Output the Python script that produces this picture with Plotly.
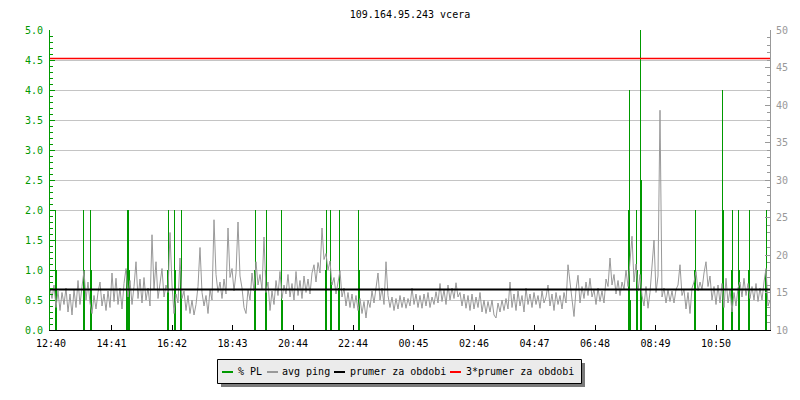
import plotly.graph_objects as go

# ---------------- data ----------------
title_text = "109.164.95.243 vcera"
tick_labels = ["12:40", "14:41", "16:42", "18:43", "20:44", "22:44",
               "00:45", "02:46", "04:47", "06:48", "08:49", "10:50"]
start_hhmm = "12:38"          # time at the left edge of the chart
span_minutes = 1440           # one day
ping_step_min = 4             # sampling step of the avg ping series

# avg ping [ms], one value every 4 minutes from the left edge
avg_ping = [
    15.6, 14.2, 16.0, 13.0, 15.2, 12.6, 15.0, 13.4, 15.6, 12.4,
    14.8, 12.0, 15.4, 13.0, 16.6, 13.4, 15.8, 17.9, 14.0, 16.4,
    13.6, 12.2, 14.6, 12.8, 15.0, 16.4, 13.2, 14.8, 12.6, 15.2,
    13.0, 17.6, 13.8, 16.9, 13.4, 15.6, 12.8, 16.2, 18.2, 14.4,
    16.6, 13.4, 15.8, 19.1, 14.2, 16.8, 13.6, 17.0, 14.0, 15.6,
    13.2, 22.7, 15.4, 19.1, 14.2, 16.6, 18.2, 14.4, 16.0, 15.0,
    23.0, 16.0, 12.2, 14.8, 13.6, 19.6, 14.2, 15.2, 12.6, 14.6,
    12.2, 14.0, 12.0, 13.4, 15.8, 21.0, 15.0, 13.2, 14.6, 12.2,
    15.4, 14.0, 24.7, 17.4, 15.0, 16.4, 14.2, 16.8, 14.8, 23.6,
    17.0, 18.2, 15.2, 17.6, 24.4, 17.2, 15.6, 13.0, 12.2, 15.4,
    14.0, 17.6, 15.2, 19.1, 16.0, 17.4, 15.4, 22.4, 15.0, 16.4,
    12.6, 15.2, 13.4, 16.6, 14.6, 17.8, 14.2, 16.0, 14.8, 17.4,
    14.4, 16.2, 14.0, 17.8, 14.6, 16.6, 14.2, 17.2, 15.0, 16.8,
    14.8, 17.6, 18.7, 16.4, 19.0, 17.6, 23.6, 19.4, 20.2, 18.0,
    19.2, 16.0, 17.0, 14.8, 16.6, 17.9, 14.4, 15.6, 13.2, 15.0,
    13.0, 14.8, 12.9, 14.6, 12.6, 14.2, 12.2, 13.8, 11.6, 14.0,
    13.0, 15.2, 13.6, 16.0, 17.6, 14.0, 15.6, 13.4, 19.1, 14.6,
    13.0, 14.4, 12.6, 14.2, 12.8, 14.6, 13.0, 14.4, 12.9, 14.2,
    13.2, 15.6, 13.4, 14.8, 13.0, 14.6, 12.9, 14.8, 13.2, 15.0,
    13.0, 14.4, 13.4, 15.1, 13.6, 16.2, 13.8, 15.4, 13.4, 16.0,
    14.0, 15.6, 14.2, 16.3, 14.4, 15.0, 13.2, 14.8, 12.9, 14.6,
    12.6, 14.8, 12.8, 14.4, 13.0, 15.0, 12.4, 14.0, 12.2, 13.8,
    12.4, 14.0, 12.0, 11.6, 13.6, 12.4, 14.0, 12.6, 14.2, 12.8,
    16.4, 13.0, 14.8, 12.6, 15.2, 13.2, 14.6, 12.4, 15.6, 13.4,
    14.8, 13.0, 15.0, 13.4, 14.6, 12.9, 15.2, 13.6, 14.4, 16.0,
    13.2, 14.8, 12.6, 15.0, 13.4, 14.6, 12.8, 15.0, 13.6, 18.7,
    16.2, 13.6, 11.8, 15.4, 17.3, 13.6, 15.8, 14.2, 16.4, 14.6,
    16.9, 14.4, 15.4, 13.4, 15.6, 13.8, 15.2, 13.6, 16.8, 15.8,
    19.6, 16.0, 17.4, 14.8, 16.6, 14.6, 16.4, 15.4, 18.0, 15.8,
    18.7, 22.5, 16.4, 18.8, 15.2, 17.4, 14.6, 13.2, 15.8, 12.9,
    15.0, 19.1, 22.0, 15.0, 17.2, 39.3, 14.4, 15.6, 13.6, 15.4,
    13.8, 15.2, 13.6, 15.4, 16.0, 18.7, 14.6, 15.4, 12.8, 15.0,
    12.2, 15.6, 16.4, 17.8, 15.2, 16.4, 15.4, 17.6, 19.1, 15.8,
    17.2, 14.0, 15.8, 13.4, 16.0, 13.6, 16.2, 13.0, 16.9, 13.6,
    15.4, 12.4, 15.0, 13.2, 15.6, 16.4, 14.4, 16.9, 14.6, 16.2,
    14.2, 15.8, 14.0, 16.2, 13.8, 15.6, 14.0, 16.4, 18.2, 13.2,
    14.0,
]

# packet loss [%]: minutes from the left edge and value
pl_times = [11, 13, 67, 69, 81, 83, 153, 155, 157, 159,
            235, 237, 249, 251, 261, 263, 409, 411, 431, 433,
            463, 465, 551, 553, 561, 563, 577, 579, 617, 619,
            1157, 1159, 1161, 1173, 1175, 1181, 1183, 1289, 1291, 1345,
            1347, 1363, 1365, 1377, 1379, 1397, 1399, 1431, 1433]
pl_values = [2, 1, 2, 1, 2, 1, 1, 2, 2, 1,
             1, 2, 2, 1, 1, 2, 1, 2, 1, 2,
             2, 0.5, 1, 2, 2, 0.8, 0.7, 2, 2, 1,
             2, 4, 0.5, 2, 1, 5, 2.5, 1, 2, 4,
             2, 1, 2, 2, 1, 1, 2, 1, 2]

prumer = 15.4      # average ping for the period [ms]

legend_names = ["% PL", "avg ping", "prumer za obdobi", "3*prumer za obdobi"]

# ---------------- styles ----------------
GREEN = "#009900"
GRAY = "#999999"
GRID = "#c4c4c4"
FONT = "DejaVu Sans Mono"

W, H = 800, 400
L, R, T, B = 50, 30, 30, 70
PW, PH = W - L - R, H - T - B


def hhmm_to_min(s):
    h, m = s.split(":")
    return int(h) * 60 + int(m)


start = hhmm_to_min(start_hhmm)
tick_vals = [(hhmm_to_min(s) - start) % 1440 for s in tick_labels]
ping_x = [i * ping_step_min for i in range(len(avg_ping))]

fig = go.Figure()

fig.add_trace(go.Bar(x=pl_times, y=pl_values, width=2, yaxis="y",
                     marker=dict(color=GREEN, line=dict(width=0, color=GREEN)),
                     name=legend_names[0]))
fig.add_trace(go.Scatter(x=ping_x, y=avg_ping, yaxis="y2", mode="lines",
                         line=dict(color=GRAY, width=1), name=legend_names[1]))
fig.add_trace(go.Scatter(x=[0, span_minutes], y=[prumer, prumer], yaxis="y2",
                         mode="lines", line=dict(color="black", width=2.2),
                         name=legend_names[2]))
fig.add_trace(go.Scatter(x=[0, span_minutes], y=[3 * prumer, 3 * prumer],
                         yaxis="y2", mode="lines",
                         line=dict(color="#ff0000", width=1.6),
                         name=legend_names[3]))


def px_x(p):
    return (p - L) / PW


def px_y(p):
    return (H - B - p) / PH


shapes = []
annotations = []
# legend box with drop shadow
shapes.append(dict(type="rect", xref="paper", yref="paper",
                   x0=px_x(221), x1=px_x(585), y0=px_y(387), y1=px_y(363),
                   fillcolor="#7a7a7a", line=dict(width=0), layer="above"))
shapes.append(dict(type="rect", xref="paper", yref="paper",
                   x0=px_x(217.5), x1=px_x(581.5), y0=px_y(383.5), y1=px_y(359.5),
                   fillcolor="#ebebeb", line=dict(color="black", width=1),
                   layer="above"))
legend_colors = [GREEN, GRAY, "black", "#ff0000"]
legend_line_x = [222, 267, 334, 450]
legend_text_x = [236, 280, 348, 464]
for name, col, lx, tx in zip(legend_names, legend_colors, legend_line_x, legend_text_x):
    shapes.append(dict(type="line", xref="paper", yref="paper",
                       x0=px_x(lx), x1=px_x(lx + 11), y0=px_y(372), y1=px_y(372),
                       line=dict(color=col, width=2), layer="above"))
    annotations.append(dict(xref="paper", yref="paper", x=px_x(tx), y=px_y(371),
                            xanchor="left", yanchor="middle", showarrow=False,
                            text=name, font=dict(family=FONT, size=10, color="black")))

fig.update_layout(
    width=W, height=H,
    margin=dict(l=L, r=R, t=T, b=B, pad=0),
    paper_bgcolor="white", plot_bgcolor="white",
    showlegend=False,
    font=dict(family=FONT, size=10, color="black"),
    title=dict(text=title_text, x=0.5, xref="paper", y=1 - 14 / H,
               yanchor="middle", xanchor="center",
               font=dict(family=FONT, size=10, color="black")),
    xaxis=dict(range=[0, span_minutes], tickvals=tick_vals, ticktext=tick_labels,
               ticks="inside", ticklen=5, tickcolor="black", tickwidth=1,
               showline=True, linecolor="black", linewidth=1,
               showgrid=False, zeroline=False, ticklabelstandoff=4,
               automargin=False,
               tickfont=dict(family=FONT, size=10, color="black")),
    yaxis=dict(range=[0, 5], dtick=0.5, tickformat=".1f",
               ticks="inside", ticklen=5, tickcolor=GREEN, tickwidth=1,
               showline=True, linecolor=GREEN, linewidth=1,
               showgrid=True, gridcolor=GRID, gridwidth=1, zeroline=False,
               ticklabelstandoff=4, automargin=False,
               minor=dict(dtick=0.1, ticks="inside", ticklen=3, tickcolor=GREEN,
                          showgrid=False),
               tickfont=dict(family=FONT, size=10, color=GREEN)),
    yaxis2=dict(range=[10, 50], dtick=5, overlaying="y", side="right",
                ticks="inside", ticklen=5, tickcolor=GRAY, tickwidth=1,
                showline=True, linecolor=GRAY, linewidth=1,
                showgrid=False, zeroline=False, ticklabelstandoff=3,
                automargin=False,
                minor=dict(dtick=1, ticks="inside", ticklen=3, tickcolor=GRAY,
                           showgrid=False),
                tickfont=dict(family=FONT, size=10, color=GRAY)),
    shapes=shapes,
    annotations=annotations,
)

fig.write_html("out.html", config={"displayModeBar": False},
               post_script="document.body.style.margin='0';")
